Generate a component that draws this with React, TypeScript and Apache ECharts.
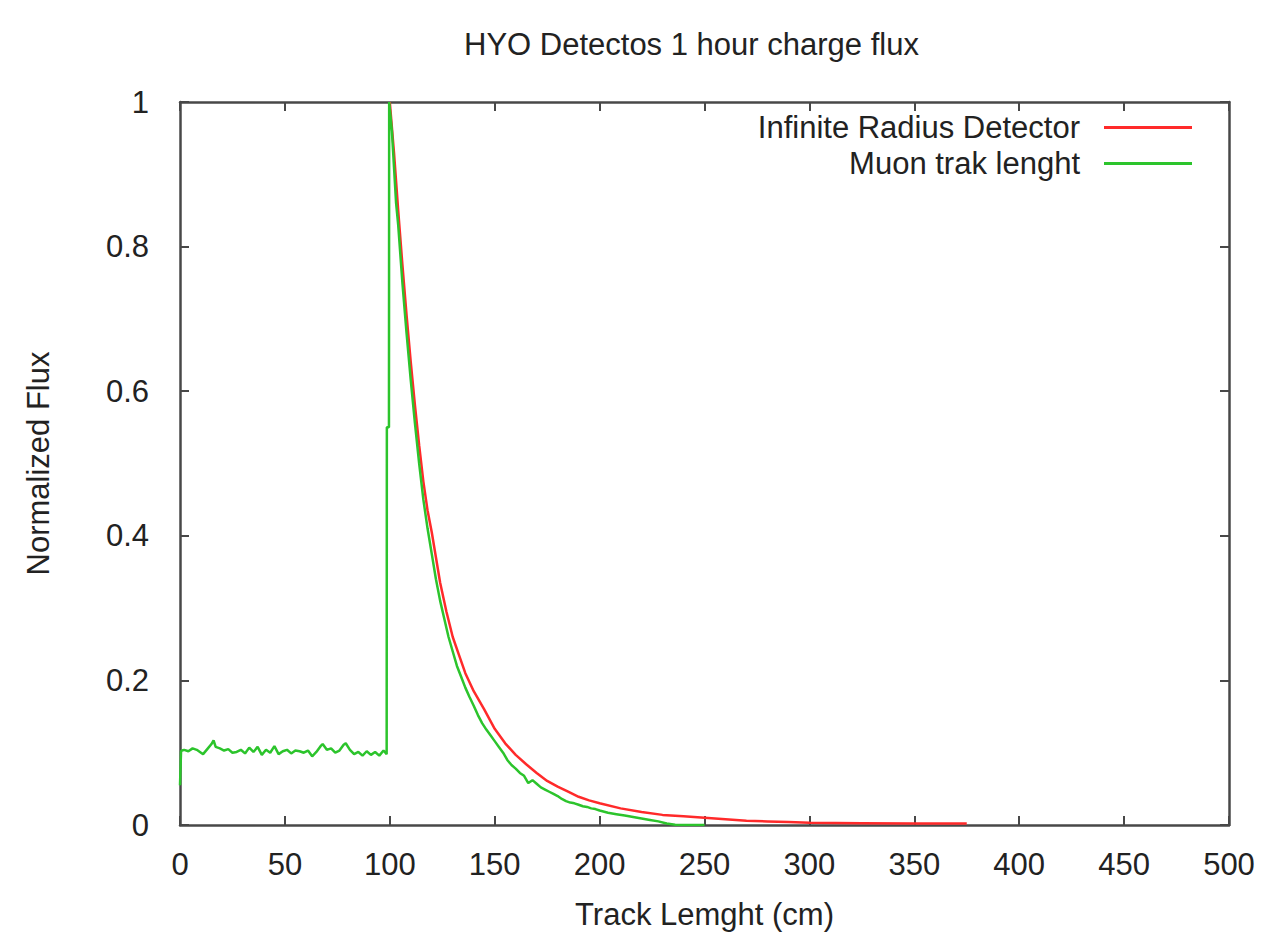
import React, { useEffect, useRef } from "react";
import * as echarts from "echarts";

const chartTitle = "HYO Detectos 1 hour charge flux";
const xAxisName = "Track Lemght (cm)";
const yAxisName = "Normalized Flux";
const seriesNames = ["Infinite Radius Detector", "Muon trak lenght"];

const redX = [100, 102, 104, 106, 108, 110, 112, 114, 116, 118, 120, 122, 124, 127, 130, 133, 136, 140, 145, 150, 155, 160, 165, 170, 175, 180, 185, 190, 195, 200, 210, 220, 230, 240, 250, 260, 270, 280, 290, 300, 325, 350, 375];
const redY = [1.0, 0.93, 0.85, 0.775, 0.705, 0.64, 0.58, 0.525, 0.475, 0.435, 0.405, 0.37, 0.335, 0.295, 0.26, 0.235, 0.21, 0.185, 0.16, 0.133, 0.113, 0.097, 0.084, 0.072, 0.061, 0.053, 0.046, 0.039, 0.034, 0.03, 0.023, 0.018, 0.014, 0.012, 0.01, 0.008, 0.006, 0.005, 0.004, 0.003, 0.0025, 0.002, 0.002];

const greenX = [0, 0.5, 1, 2, 4, 6, 8, 10, 11, 13, 15, 16, 17, 19, 21, 23, 25, 27, 29, 31, 33, 35, 37, 39, 41, 43, 45, 47, 49, 51, 53, 55, 57, 59, 61, 63, 65, 67, 68, 70, 72, 74, 76, 78, 79, 81, 83, 85, 87, 89, 91, 93, 95, 97, 98.5, 98.6, 99.6, 99.7, 101, 102, 103, 104, 106, 108, 110, 112, 114, 116, 118, 120, 122, 124, 126, 128, 130, 132, 134, 136, 138, 140, 142, 144, 146, 148, 150, 152, 154, 156, 158, 160, 162, 164, 166, 168, 170, 172, 174, 176, 178, 180, 182, 184, 186, 188, 190, 192, 194, 196, 198, 200, 204, 208, 212, 216, 220, 224, 228, 232, 236, 240, 250];
const greenY = [0.055, 0.102, 0.103, 0.104, 0.102, 0.106, 0.104, 0.1, 0.098, 0.105, 0.112, 0.117, 0.108, 0.106, 0.103, 0.105, 0.1, 0.101, 0.104, 0.099, 0.107, 0.101, 0.108, 0.097, 0.104, 0.1, 0.109, 0.098, 0.102, 0.104, 0.099, 0.103, 0.102, 0.1, 0.103, 0.095, 0.101, 0.109, 0.112, 0.104, 0.106, 0.1, 0.103, 0.111, 0.113, 0.104, 0.098, 0.101, 0.096, 0.102, 0.097, 0.101, 0.096, 0.103, 0.098, 0.55, 0.55, 1.0, 0.96, 0.91, 0.86, 0.83, 0.75, 0.68, 0.615, 0.555, 0.5, 0.45, 0.41, 0.375, 0.34, 0.31, 0.285, 0.26, 0.24, 0.22, 0.205, 0.19, 0.177, 0.165, 0.152, 0.141, 0.132, 0.124, 0.116, 0.108, 0.1, 0.09, 0.083, 0.078, 0.072, 0.068, 0.058, 0.062, 0.057, 0.052, 0.049, 0.046, 0.043, 0.04, 0.036, 0.033, 0.031, 0.03, 0.028, 0.026, 0.025, 0.023, 0.022, 0.02, 0.017, 0.015, 0.013, 0.011, 0.009, 0.007, 0.005, 0.002, 0.0005, 0, 0];

const xTicks = { min: 0, max: 500, interval: 50 };
const yTicks = { min: 0, max: 1, interval: 0.2 };

const FONT = "'Liberation Sans', Arial, sans-serif";
const FS = 31;
const TXT = "#222";
const FRAME = "#484848";
const RED = "#ff2a2a";
const GREEN = "#2cc42c";

export default function App() {
  const ref = useRef<HTMLDivElement>(null);
  useEffect(() => {
    if (!ref.current) return;
    const chart = echarts.init(ref.current, undefined, { renderer: "svg" });
    const red = redX.map((x, i) => [x, redY[i]]);
    const green = greenX.map((x, i) => [x, greenY[i]]);
    const frameLine = { show: true, onZero: false, lineStyle: { color: FRAME, width: 2.5 } };
    const tick = { show: true, inside: true, length: 9, lineStyle: { color: FRAME, width: 2 } };
    chart.setOption({
      animation: false,
      backgroundColor: "#ffffff",
      textStyle: { fontFamily: FONT },
      title: {
        text: chartTitle,
        left: 459,
        top: 24,
        textStyle: { fontFamily: FONT, fontSize: FS, fontWeight: "normal", color: TXT },
      },
      legend: {
        orient: "vertical",
        right: 72,
        top: 107,
        align: "right",
        icon: "rect",
        itemWidth: 88,
        itemHeight: 3,
        itemGap: 5,
        textStyle: { fontFamily: FONT, fontSize: FS, color: TXT, lineHeight: 31, padding: [0, 19, 0, 0] },
        data: seriesNames,
      },
      grid: { left: 180, right: 40, top: 102, bottom: 123, containLabel: false },
      xAxis: [
        {
          type: "value",
          ...xTicks,
          position: "bottom",
          name: xAxisName,
          nameLocation: "middle",
          nameGap: 74,
          nameTextStyle: { fontFamily: FONT, fontSize: FS, color: TXT },
          axisLine: frameLine,
          axisTick: tick,
          splitLine: { show: false },
          axisLabel: { fontFamily: FONT, fontSize: FS, color: TXT, margin: 24 },
        },
        {
          type: "value",
          ...xTicks,
          position: "top",
          axisLine: frameLine,
          axisTick: tick,
          splitLine: { show: false },
          axisLabel: { show: false },
        },
      ],
      yAxis: [
        {
          type: "value",
          ...yTicks,
          position: "left",
          name: yAxisName,
          nameLocation: "middle",
          nameGap: 126,
          nameTextStyle: { fontFamily: FONT, fontSize: FS, color: TXT },
          axisLine: frameLine,
          axisTick: tick,
          splitLine: { show: false },
          axisLabel: { fontFamily: FONT, fontSize: FS, color: TXT, margin: 31 },
        },
        {
          type: "value",
          ...yTicks,
          position: "right",
          axisLine: frameLine,
          axisTick: tick,
          splitLine: { show: false },
          axisLabel: { show: false },
        },
      ],
      series: [
        {
          name: seriesNames[0],
          type: "line",
          data: red,
          symbol: "none",
          lineStyle: { color: RED, width: 2.5 },
          itemStyle: { color: RED },
          xAxisIndex: 0,
          yAxisIndex: 0,
        },
        {
          name: seriesNames[1],
          type: "line",
          data: green,
          symbol: "none",
          lineStyle: { color: GREEN, width: 2.5 },
          itemStyle: { color: GREEN },
          xAxisIndex: 0,
          yAxisIndex: 0,
        },
      ],
    });
    return () => chart.dispose();
  }, []);
  return (
    <div
      ref={ref}
      style={{ position: "fixed", left: 0, top: 0, width: 1269, height: 948, background: "#fff" }}
    />
  );
}
